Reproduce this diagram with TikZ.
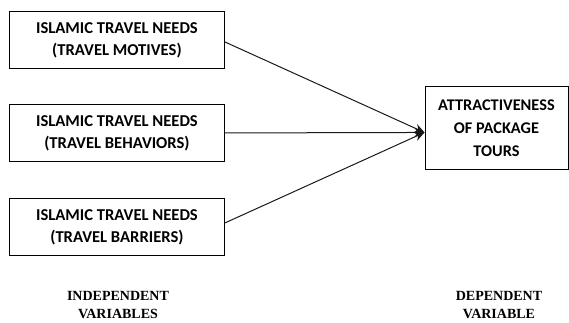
\documentclass[tikz,border=0pt]{standalone}
\usepackage{fontspec}
\setmainfont{Carlito}
\newfontfamily\serifb{Liberation Serif}
\usetikzlibrary{arrows.meta}
\begin{document}
\begin{tikzpicture}[x=1pt,y=-1pt,
  box/.style={draw=black, line width=0.9pt, minimum width=215pt, minimum height=57pt, inner sep=0pt, align=center, font=\fontsize{16.6}{22}\selectfont\bfseries, anchor=north west},
  dvbox/.style={draw=black, line width=0.9pt, minimum width=143pt, minimum height=83pt, inner sep=0pt, align=center, font=\fontsize{16.3}{23}\selectfont\bfseries, anchor=north west},
  lbl/.style={align=center, font=\serifb\fontsize{14}{18}\selectfont\bfseries},
  conn/.style={draw=black!90, line width=1pt, -{Stealth[length=10pt,width=9pt]}}]
\useasboundingbox (0,0) rectangle (569,322);
\node[box] (b1) at (9,11) {ISLAMIC TRAVEL NEEDS\\(TRAVEL MOTIVES)};
\node[box] (b2) at (9,104) {ISLAMIC TRAVEL NEEDS\\(TRAVEL BEHAVIORS)};
\node[box] (b3) at (9,198) {ISLAMIC TRAVEL NEEDS\\(TRAVEL BARRIERS)};
\node[dvbox] (d) at (424.5,86) {ATTRACTIVENESS\\OF PACKAGE\\TOURS};
\coordinate (t) at ([yshift=-4.5pt]d.west);
\draw[conn] ([yshift=-2pt]b1.east) -- (t);
\draw[conn] (b2.east) -- (t);
\draw[conn] ([yshift=4pt]b3.east) -- (t);
\node[lbl] (iv) at (118,305) {INDEPENDENT\\VARIABLES};
\node[lbl] (dv) at (499,305) {DEPENDENT\\VARIABLE};
\end{tikzpicture}
\end{document}
